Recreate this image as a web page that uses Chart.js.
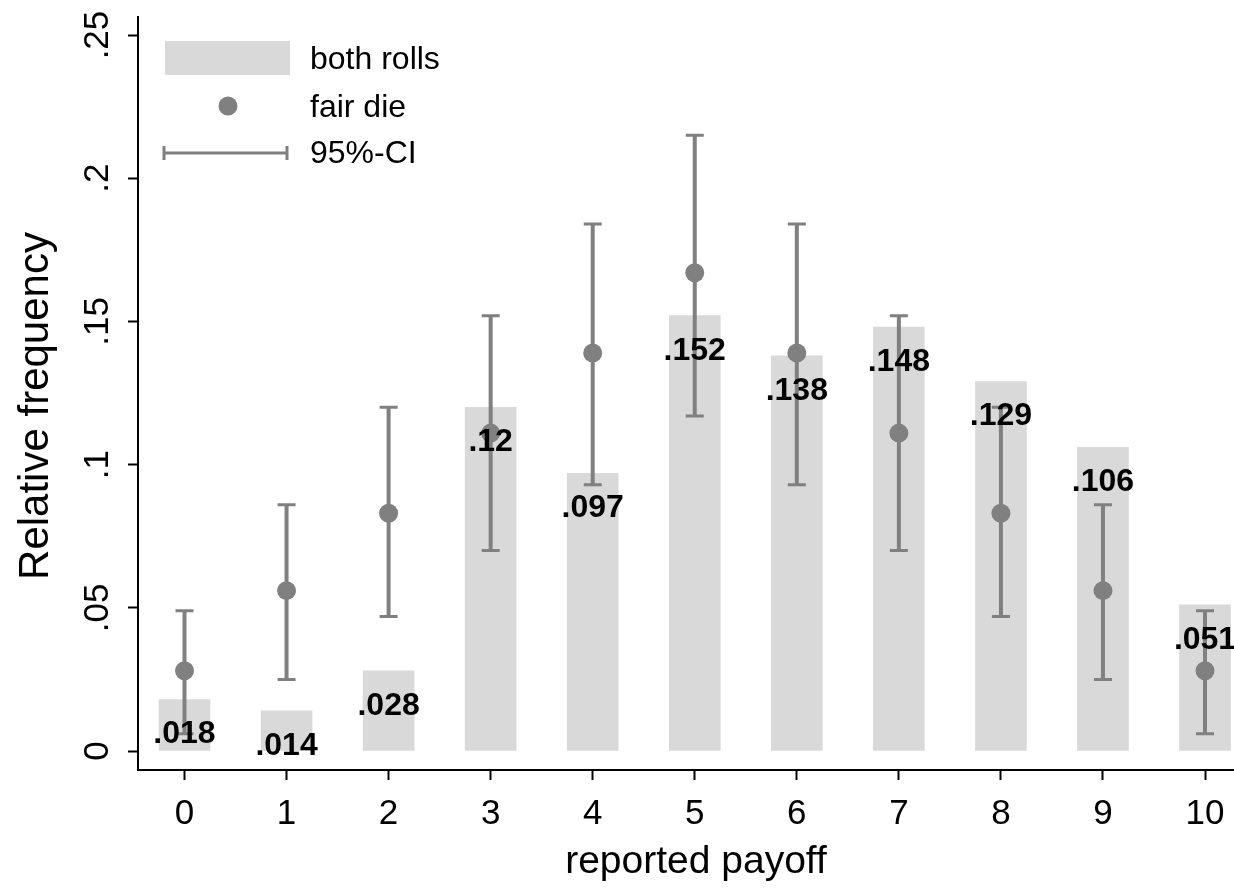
<!DOCTYPE html>
<html>
<head>
<meta charset="utf-8">
<title>Reported payoff distribution</title>
<script src="https://cdn.jsdelivr.net/npm/chart.js@4"></script>
<style>
  html, body { margin: 0; padding: 0; background: #ffffff; }
  #wrap { width: 1234px; height: 894px; }
</style>
</head>
<body>
<div id="wrap"><canvas id="chart" width="1234" height="894"></canvas></div>
<script>
// Reported payoff categories
const payoffs = [0, 1, 2, 3, 4, 5, 6, 7, 8, 9, 10];
// Observed relative frequency over both rolls
const bothRolls = [0.018, 0.014, 0.028, 0.12, 0.097, 0.152, 0.138, 0.148, 0.129, 0.106, 0.051];
// Expected relative frequency with a fair die
const fairDie = [0.028, 0.056, 0.083, 0.111, 0.139, 0.167, 0.139, 0.111, 0.083, 0.056, 0.028];
// 95% confidence interval bounds around the fair-die expectation
const ciLow = [0.006, 0.025, 0.047, 0.070, 0.093, 0.117, 0.093, 0.070, 0.047, 0.025, 0.006];
const ciHigh = [0.049, 0.086, 0.120, 0.152, 0.184, 0.215, 0.184, 0.152, 0.120, 0.086, 0.049];
// Axis ticks
const yTickValues = [0, 0.05, 0.1, 0.15, 0.2, 0.25];
const yTickLabels = ['0', '.05', '.1', '.15', '.2', '.25'];
const xTickLabels = ['0', '1', '2', '3', '4', '5', '6', '7', '8', '9', '10'];
// Text
const xTitle = 'reported payoff';
const yTitle = 'Relative frequency';
const legendLabels = ['both rolls', 'fair die', '95%-CI'];

const FONT = '"Liberation Sans", Arial, Helvetica, sans-serif';
const BAR_COLOR = '#d9d9d9';
const MARK_COLOR = '#808080';

const fmt = v => String(v).replace(/^0\./, '.');

const decor = {
  id: 'decor',
  afterDatasetDraw(chart, args) {
    // error bars drawn after the bars, before the points
    if (args.index !== 1) return;
    const ctx = chart.ctx, xs = chart.scales.x, ys = chart.scales.y;
    ctx.save();
    ctx.strokeStyle = MARK_COLOR;
    payoffs.forEach((p, i) => {
      const x = xs.getPixelForValue(p);
      const y1 = ys.getPixelForValue(ciLow[i]);
      const y2 = ys.getPixelForValue(ciHigh[i]);
      ctx.lineWidth = 4;
      ctx.beginPath();
      ctx.moveTo(x, y1); ctx.lineTo(x, y2);
      ctx.stroke();
      ctx.lineWidth = 3;
      ctx.beginPath();
      ctx.moveTo(x - 9, y1); ctx.lineTo(x + 9, y1);
      ctx.moveTo(x - 9, y2); ctx.lineTo(x + 9, y2);
      ctx.stroke();
    });
    ctx.restore();
  },
  afterDatasetsDraw(chart) {
    // value labels under the top of each bar
    const ctx = chart.ctx, xs = chart.scales.x, ys = chart.scales.y;
    ctx.save();
    ctx.fillStyle = '#000';
    ctx.font = 'bold 32px ' + FONT;
    ctx.textAlign = 'center';
    ctx.textBaseline = 'middle';
    payoffs.forEach((p, i) => {
      ctx.fillText(fmt(bothRolls[i]), xs.getPixelForValue(p), ys.getPixelForValue(bothRolls[i]) + 35);
    });
    ctx.restore();
  },
  afterDraw(chart) {
    const ctx = chart.ctx, xs = chart.scales.x, ys = chart.scales.y;
    ctx.save();
    ctx.fillStyle = '#000';
    // x tick labels
    ctx.font = '35px ' + FONT;
    ctx.textAlign = 'center';
    ctx.textBaseline = 'middle';
    payoffs.forEach((p, i) => ctx.fillText(xTickLabels[i], xs.getPixelForValue(p), 814));
    // y tick labels, rotated
    yTickValues.forEach((v, i) => {
      ctx.save();
      ctx.translate(98, ys.getPixelForValue(v));
      ctx.rotate(-Math.PI / 2);
      ctx.fillText(yTickLabels[i], 0, 0);
      ctx.restore();
    });
    // axis titles
    ctx.font = '39px ' + FONT;
    ctx.fillText(xTitle, 696, 862);
    ctx.font = '42px ' + FONT;
    ctx.save();
    ctx.translate(36, 406);
    ctx.rotate(-Math.PI / 2);
    ctx.fillText(yTitle, 0, 0);
    ctx.restore();

    // legend
    ctx.fillStyle = BAR_COLOR;
    ctx.fillRect(165, 41, 125, 34);
    ctx.fillStyle = MARK_COLOR;
    ctx.beginPath();
    ctx.arc(228, 106, 9.5, 0, Math.PI * 2);
    ctx.fill();
    ctx.strokeStyle = MARK_COLOR;
    ctx.lineWidth = 3;
    ctx.beginPath();
    ctx.moveTo(163, 153); ctx.lineTo(288, 153);
    ctx.moveTo(164, 146); ctx.lineTo(164, 160);
    ctx.moveTo(287, 146); ctx.lineTo(287, 160);
    ctx.stroke();
    ctx.fillStyle = '#000';
    ctx.font = '32px ' + FONT;
    ctx.textAlign = 'left';
    ctx.fillText(legendLabels[0], 310, 60);
    ctx.fillText(legendLabels[1], 310, 108);
    ctx.fillText(legendLabels[2], 310, 154);
    ctx.restore();
  }
};

new Chart(document.getElementById('chart'), {
  type: 'bar',
  data: {
    datasets: [
      {
        type: 'scatter',
        label: legendLabels[1],
        data: payoffs.map((p, i) => ({ x: p, y: fairDie[i] })),
        backgroundColor: MARK_COLOR,
        borderColor: MARK_COLOR,
        borderWidth: 0,
        pointRadius: 9.5,
        pointHoverRadius: 9.5
      },
      {
        type: 'bar',
        label: legendLabels[0],
        data: payoffs.map((p, i) => ({ x: p, y: bothRolls[i] })),
        backgroundColor: BAR_COLOR,
        borderWidth: 0,
        barThickness: 51
      }
    ]
  },
  options: {
    responsive: false,
    animation: false,
    events: [],
    layout: { autoPadding: false, padding: { top: 17, right: 0, left: 0, bottom: 0 } },
    plugins: { legend: { display: false }, tooltip: { enabled: false } },
    scales: {
      x: {
        type: 'linear',
        min: -0.4557,
        max: 10.284,
        offset: false,
        grid: { offset: false, drawOnChartArea: false, drawTicks: true, tickLength: 10, tickWidth: 2, color: '#000' },
        border: { display: true, color: '#000', width: 2 },
        ticks: { display: false },
        afterBuildTicks: s => { s.ticks = payoffs.map(v => ({ value: v })); },
        afterFit: s => { s.height = 124; }
      },
      y: {
        type: 'linear',
        min: -0.00663,
        max: 0.2563,
        grid: { drawOnChartArea: false, drawTicks: true, tickLength: 10, tickWidth: 2, color: '#000' },
        border: { display: true, color: '#000', width: 2 },
        ticks: { display: false },
        afterBuildTicks: s => { s.ticks = yTickValues.map(v => ({ value: v })); },
        afterFit: s => { s.width = 138; }
      }
    }
  },
  plugins: [decor]
});
</script>
</body>
</html>
